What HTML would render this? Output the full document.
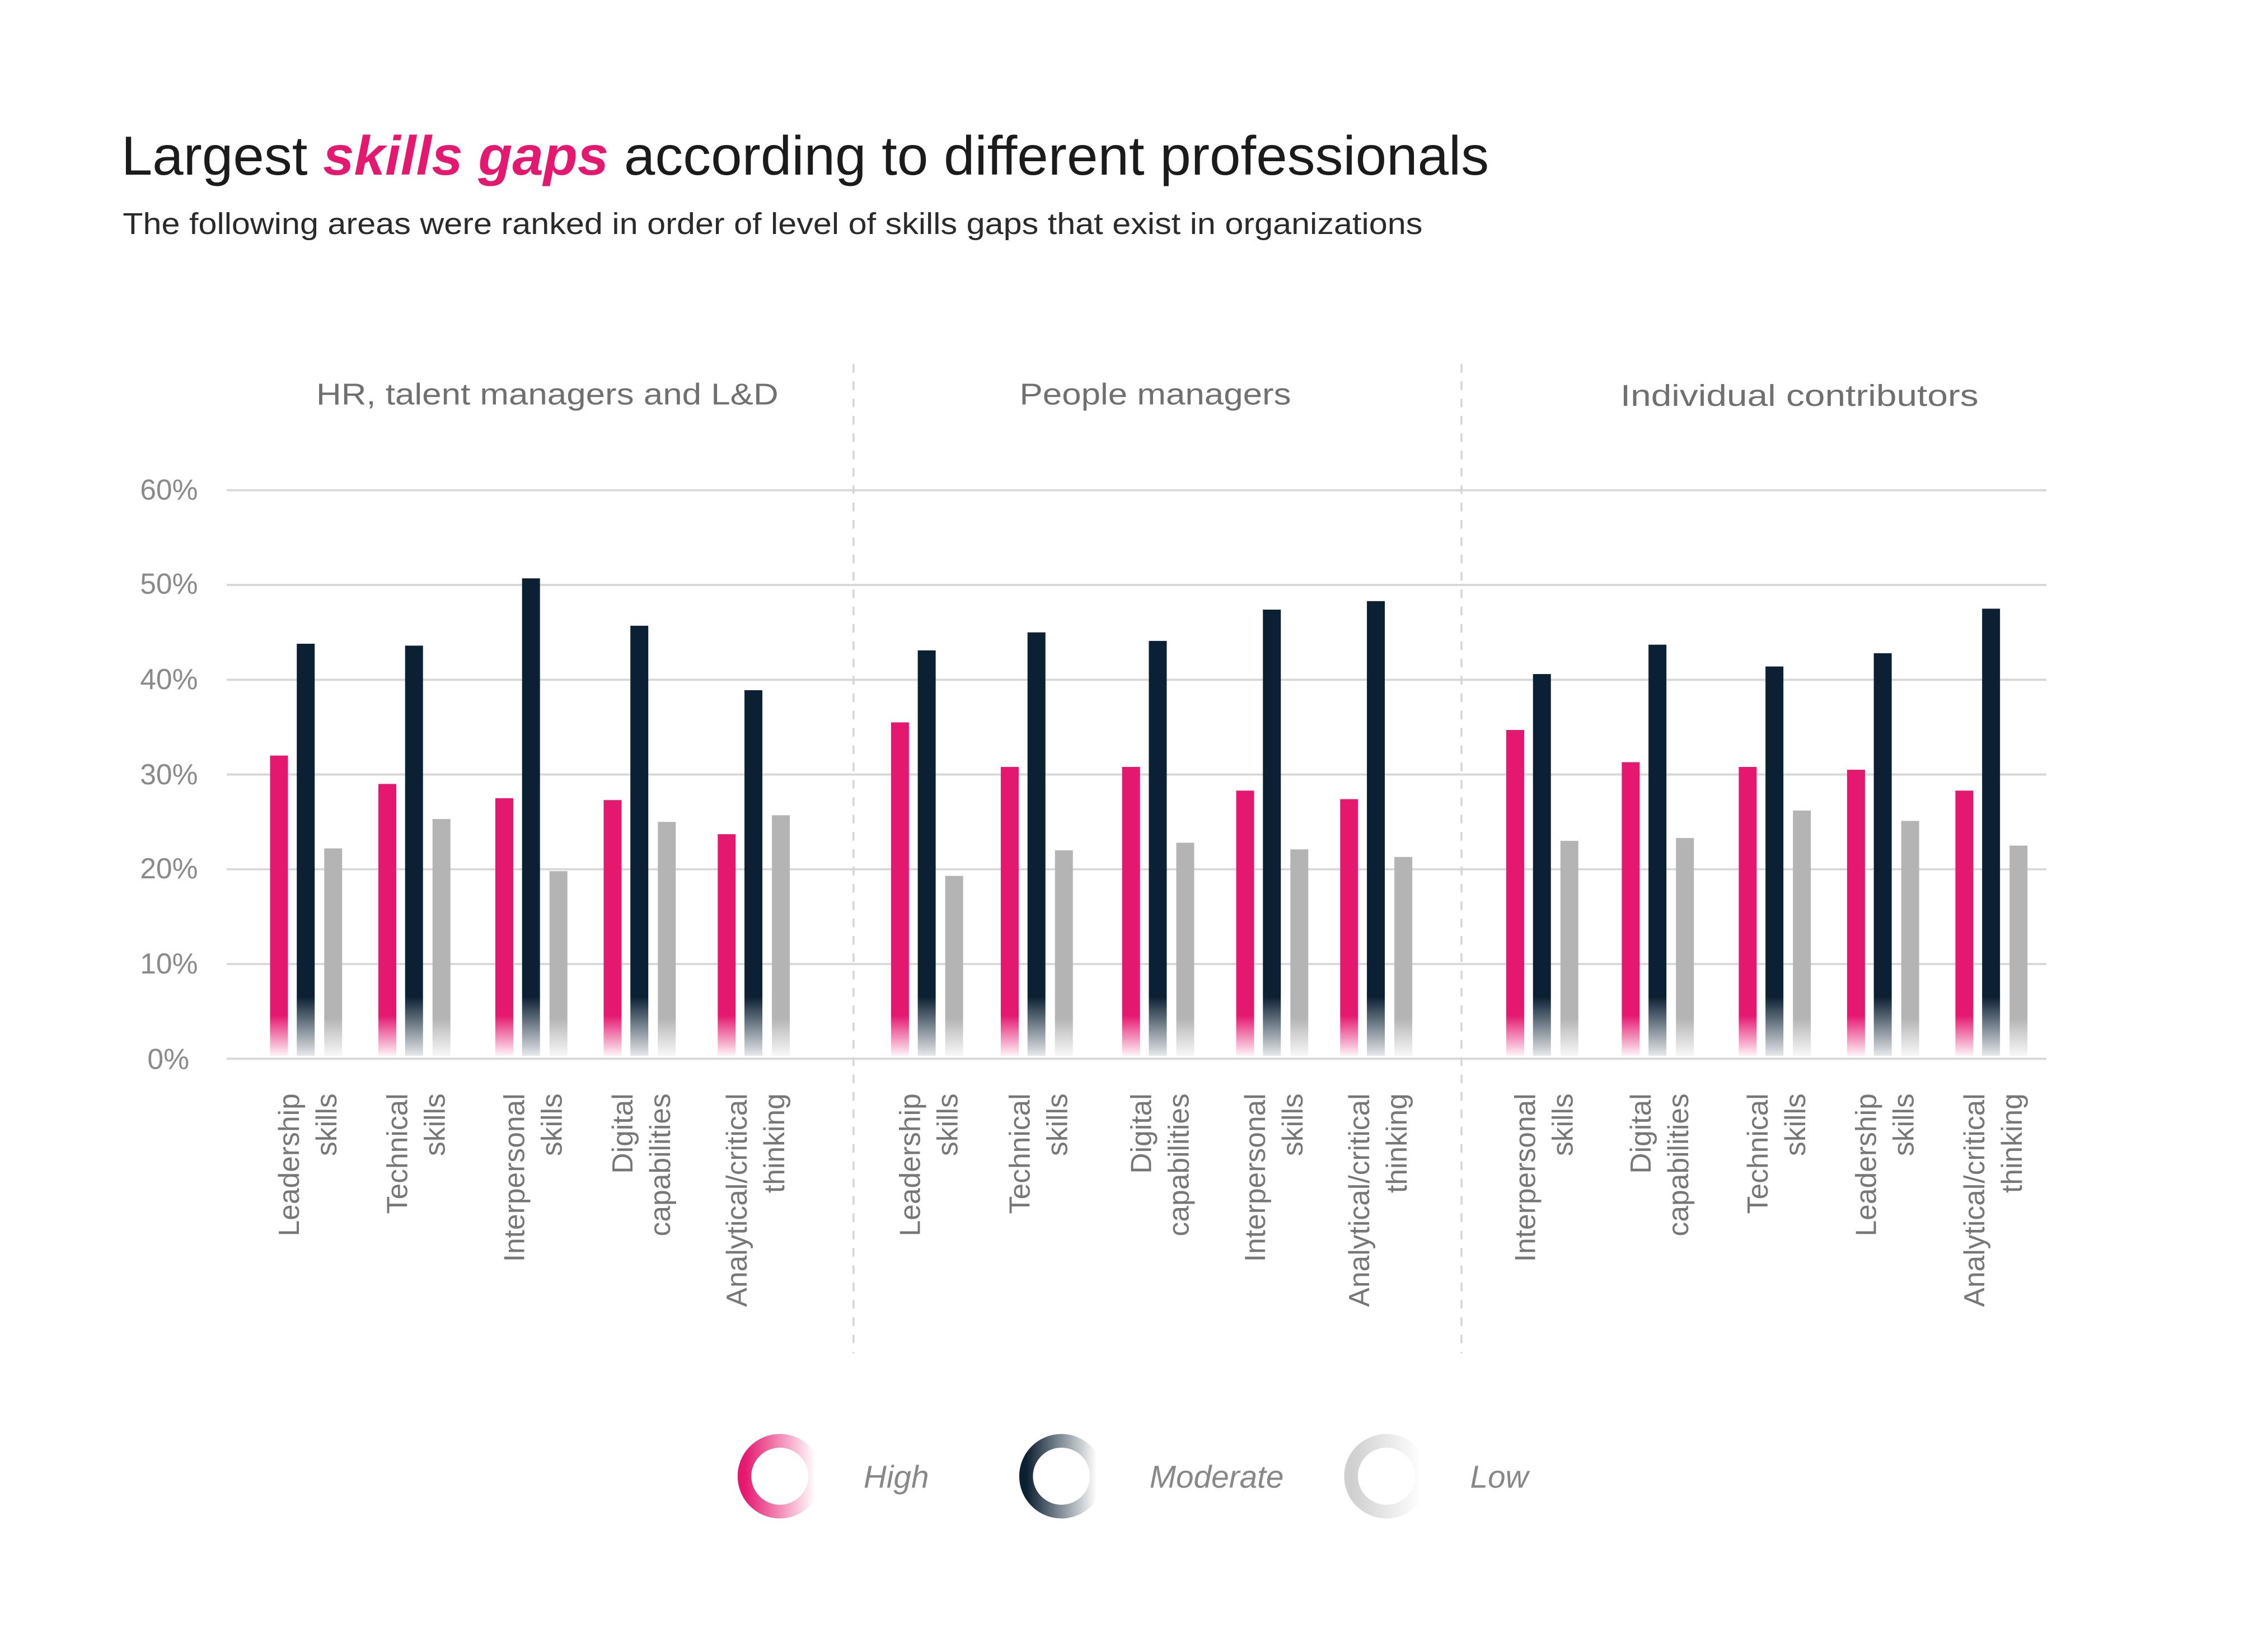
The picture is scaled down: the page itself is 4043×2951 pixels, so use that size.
<!DOCTYPE html>
<html><head><meta charset="utf-8"><style>html,body{margin:0;padding:0;background:#fff}svg{display:block}</style></head>
<body>
<svg xmlns="http://www.w3.org/2000/svg" width="4043" height="2951" viewBox="0 0 1567 1143.7" preserveAspectRatio="none" font-family="Liberation Sans, sans-serif">
<defs>
<linearGradient id="gp" gradientUnits="userSpaceOnUse" x1="0" y1="703" x2="0" y2="731"><stop offset="0" stop-color="#e5186f"/><stop offset="1" stop-color="#e5186f" stop-opacity="0.05"/></linearGradient>
<linearGradient id="gd" gradientUnits="userSpaceOnUse" x1="0" y1="690" x2="0" y2="731"><stop offset="0" stop-color="#0b2033"/><stop offset="1" stop-color="#0b2033" stop-opacity="0.1"/></linearGradient>
<linearGradient id="gg" gradientUnits="userSpaceOnUse" x1="0" y1="705" x2="0" y2="731"><stop offset="0" stop-color="#b4b4b4"/><stop offset="1" stop-color="#b4b4b4" stop-opacity="0.1"/></linearGradient>
<linearGradient id="lp" x1="0" y1="0" x2="1" y2="0"><stop offset="0" stop-color="#e5186f"/><stop offset="1" stop-color="#e5186f" stop-opacity="0"/></linearGradient>
<linearGradient id="ld" x1="0" y1="0" x2="1" y2="0"><stop offset="0" stop-color="#0b2033"/><stop offset="1" stop-color="#0b2033" stop-opacity="0"/></linearGradient>
<linearGradient id="lg" x1="0" y1="0" x2="1" y2="0"><stop offset="0" stop-color="#cfcfcf"/><stop offset="1" stop-color="#cfcfcf" stop-opacity="0"/></linearGradient>
</defs>
<text x="84" y="121" font-size="38" fill="#1b1b1b" textLength="947" lengthAdjust="spacingAndGlyphs">Largest <tspan fill="#e5186f" font-weight="bold" font-style="italic">skills gaps</tspan> according to different professionals</text>
<text x="85" y="162" font-size="21" fill="#2a2a2a" textLength="900" lengthAdjust="spacingAndGlyphs">The following areas were ranked in order of level of skills gaps that exist in organizations</text>
<g font-size="21" fill="#707070" text-anchor="middle">
<text x="379" y="280" textLength="320" lengthAdjust="spacingAndGlyphs">HR, talent managers and L&amp;D</text>
<text x="800" y="280" textLength="188" lengthAdjust="spacingAndGlyphs">People managers</text>
<text x="1246" y="281" textLength="248" lengthAdjust="spacingAndGlyphs">Individual contributors</text>
</g>
<g stroke="#d8d8d8" stroke-width="1.5">
<line x1="157" y1="339.4" x2="1417" y2="339.4"/><line x1="157" y1="405" x2="1417" y2="405"/><line x1="157" y1="470.6" x2="1417" y2="470.6"/><line x1="157" y1="536.2" x2="1417" y2="536.2"/><line x1="157" y1="601.8" x2="1417" y2="601.8"/><line x1="157" y1="667.4" x2="1417" y2="667.4"/><line x1="157" y1="733" x2="1417" y2="733"/>
</g>
<g stroke="#d4d4d4" stroke-width="1.3" stroke-dasharray="6,6"><line x1="591" y1="252" x2="591" y2="937"/><line x1="1012" y1="252" x2="1012" y2="937"/></g>
<g font-size="20" fill="#8a8a8a" text-anchor="end">
<text x="137" y="346">60%</text><text x="137" y="411">50%</text><text x="137" y="477">40%</text><text x="137" y="543">30%</text><text x="137" y="608">20%</text><text x="137" y="674">10%</text><text x="131" y="740">0%</text>
</g>
<g id="bars"></g>
<g id="labels" font-size="20" fill="#777" text-anchor="end"></g>
<circle cx="540" cy="1022" r="24.5" fill="none" stroke="url(#lp)" stroke-width="9.5"/>
<circle cx="735" cy="1022" r="24.5" fill="none" stroke="url(#ld)" stroke-width="9.5"/>
<circle cx="960" cy="1022" r="24.5" fill="none" stroke="url(#lg)" stroke-width="9.5"/>
<g font-size="22" fill="#888" font-style="italic"><text x="598" y="1030">High</text><text x="796" y="1030">Moderate</text><text x="1018" y="1030">Low</text></g>
<script>
var data=[[187,32,43.8,22.2,"Leadership","skills"],[262,29,43.6,25.3,"Technical","skills"],[343,27.5,50.7,19.8,"Interpersonal","skills"],[418,27.3,45.7,25,"Digital","capabilities"],[497,23.7,38.9,25.7,"Analytical/critical","thinking"],
[617,35.5,43.1,19.3,"Leadership","skills"],[693,30.8,45,22,"Technical","skills"],[777,30.8,44.1,22.8,"Digital","capabilities"],[856,28.3,47.4,22.1,"Interpersonal","skills"],[928,27.4,48.3,21.3,"Analytical/critical","thinking"],
[1043,34.7,40.6,23,"Interpersonal","skills"],[1123,31.3,43.7,23.3,"Digital","capabilities"],[1204,30.8,41.4,26.2,"Technical","skills"],[1279,30.5,42.8,25.1,"Leadership","skills"],[1354,28.3,47.5,22.5,"Analytical/critical","thinking"]];
var ns="http://www.w3.org/2000/svg",b=document.getElementById("bars"),l=document.getElementById("labels");
function r(x,v,f){var e=document.createElementNS(ns,"rect"),t=733-v*6.56;e.setAttribute("x",x);e.setAttribute("y",t);e.setAttribute("width",12.4);e.setAttribute("height",731-t);e.setAttribute("fill",f);b.appendChild(e);}
function tx(x,s){var e=document.createElementNS(ns,"text");e.setAttribute("transform","translate("+x+",757) rotate(-90)");e.textContent=s;l.appendChild(e);}
data.forEach(function(d){r(d[0],d[1],"url(#gp)");r(d[0]+18.5,d[2],"url(#gd)");r(d[0]+37.5,d[3],"url(#gg)");tx(d[0]+20,d[4]);tx(d[0]+46,d[5]);});
</script>
</svg>
</body></html>
